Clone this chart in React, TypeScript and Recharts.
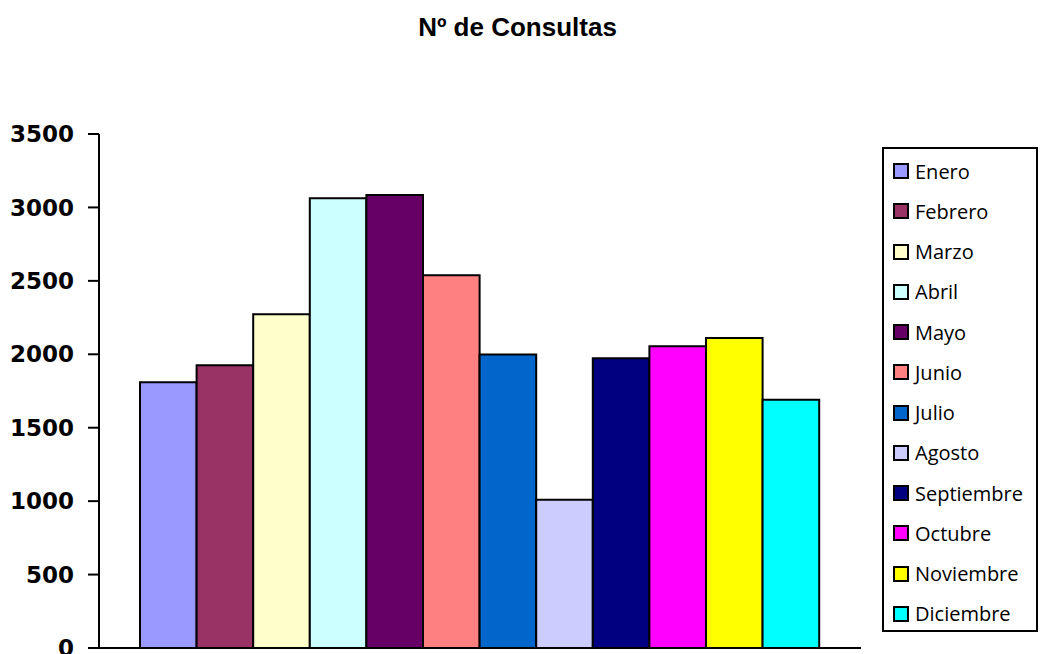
import { BarChart, Bar, XAxis, YAxis } from 'recharts'

const MONTHS = [
  'Enero', 'Febrero', 'Marzo', 'Abril', 'Mayo', 'Junio',
  'Julio', 'Agosto', 'Septiembre', 'Octubre', 'Noviembre', 'Diciembre',
]
const CONSULTAS = [1810, 1925, 2272, 3062, 3084, 2538, 1999, 1010, 1973, 2054, 2111, 1691]
const COLORS = [
  '#9999FF', '#993366', '#FFFFCC', '#CCFFFF', '#660066', '#FF8080',
  '#0066CC', '#CCCCFF', '#000080', '#FF00FF', '#FFFF00', '#00FFFF',
]
const Y_TICKS = [0, 500, 1000, 1500, 2000, 2500, 3000, 3500]

const row: Record<string, string | number> = { name: 'Consultas' }
MONTHS.forEach((m, i) => { row[m] = CONSULTAS[i] })
const data = [row]

function LegendBox() {
  return (
    <div style={{
      position: 'absolute', left: 882, top: 147, width: 152, height: 481,
      border: '2px solid #000', background: '#fff', boxSizing: 'content-box',
      fontFamily: '"Open Sans", sans-serif', fontSize: 20, color: '#000',
    }}>
      {MONTHS.map((m, i) => (
        <div key={m} style={{
          position: 'absolute', left: 9, top: 22 + i * 40.27 - 14, height: 28,
          display: 'flex', alignItems: 'center', whiteSpace: 'nowrap',
        }}>
          <span style={{
            display: 'inline-block', width: 12, height: 12, background: COLORS[i],
            border: '2px solid #000', marginRight: 6,
          }} />
          {m}
        </div>
      ))}
    </div>
  )
}

export default function App() {
  return (
    <div style={{ position: 'absolute', left: 0, top: 0, width: 1040, height: 654, background: '#fff', overflow: 'hidden' }}>
      <div style={{
        position: 'absolute', left: 0, width: 1035, top: 12, textAlign: 'center',
        fontFamily: '"Liberation Sans", Arial, sans-serif', fontWeight: 'bold', fontSize: 26,
      }}>
        Nº de Consultas
      </div>
      <BarChart
        width={1040}
        height={654}
        data={data}
        margin={{ top: 134, right: 179, bottom: 0, left: 0 }}
        barSize={56.6}
        barGap={0}
      >
        <XAxis
          dataKey="name"
          height={6}
          tick={false}
          tickLine={false}
          axisLine={{ stroke: '#000', strokeWidth: 2 }}
        />
        <YAxis
          yAxisId="left"
          width={99}
          domain={[0, 3500]}
          ticks={Y_TICKS}
          interval={0}
          tickSize={11}
          tickMargin={14}
          tickLine={{ stroke: '#000', strokeWidth: 2 }}
          axisLine={{ stroke: '#000', strokeWidth: 2 }}
          tick={{ fill: '#000', fontSize: 23, fontWeight: 'bold', fontFamily: '"DejaVu Sans", sans-serif' }}
        />
        <YAxis
          yAxisId="right"
          orientation="right"
          width={0}
          domain={[0, 3500]}
          tick={false}
          tickLine={false}
          axisLine={{ stroke: '#999', strokeWidth: 2 }}
        />
        {MONTHS.map((m, i) => (
          <Bar
            key={m}
            yAxisId="left"
            dataKey={m}
            fill={COLORS[i]}
            stroke="#000"
            strokeWidth={2}
            isAnimationActive={false}
          />
        ))}
      </BarChart>
      <LegendBox />
    </div>
  )
}
